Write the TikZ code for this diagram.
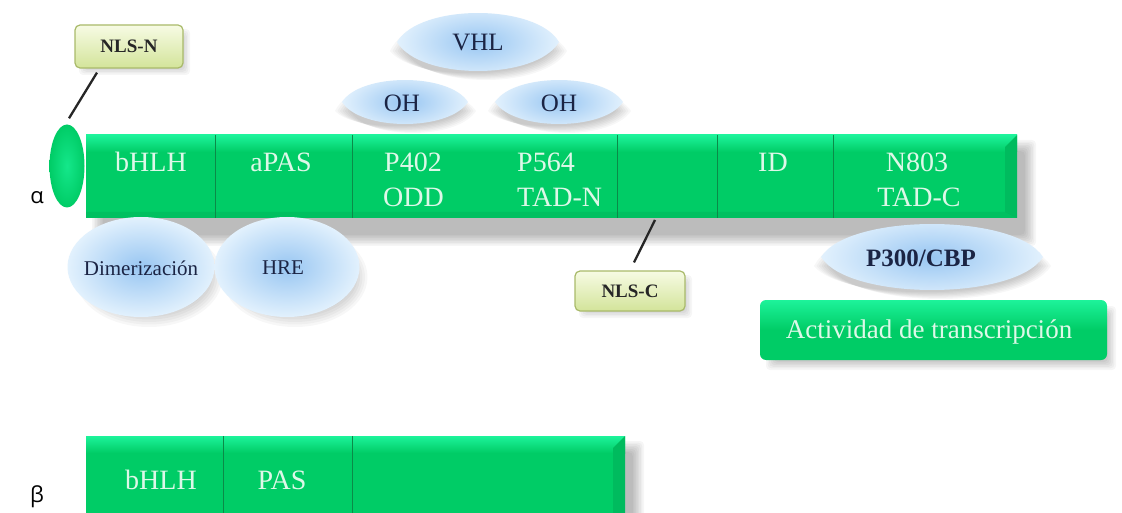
\documentclass[tikz,border=0pt]{standalone}
\usepackage{fontspec}
\setmainfont{Liberation Serif}
\newfontfamily\greekfont{Open Sans}
\usetikzlibrary{shapes.geometric}
\definecolor{barg}{HTML}{00CC66}
\definecolor{barhi}{HTML}{1DF39A}
\definecolor{bardk}{HTML}{00BB5E}
\definecolor{sepc}{HTML}{0B8A48}
\definecolor{mint}{HTML}{DDF8E8}
\definecolor{lensin}{HTML}{98C6F2}
\definecolor{lensout}{HTML}{E2F1FD}
\definecolor{navy}{HTML}{1B2444}
\definecolor{nlstop}{HTML}{F7FBE4}
\definecolor{nlsbot}{HTML}{D3E49A}
\definecolor{nlsdraw}{HTML}{A9BA6A}
\newcommand\softshadow[4]{%
  \foreach \k in {0,...,7}{%
    \fill[black,opacity=0.035,rounded corners=4pt] ({#1+\k*1.6},{#2+\k*1.6}) rectangle ({#3-\k*1.6},{#4-\k*1.6});}}
% lens: center x, center y, half width, half height, bulge factor
\newcommand\lenspath[5]{({#1-#3},{#2}) .. controls ({#1-#5*#3},{#2-1.333*#4}) and ({#1+#5*#3},{#2-1.333*#4}) .. ({#1+#3},{#2}) .. controls ({#1+#5*#3},{#2+1.333*#4}) and ({#1-#5*#3},{#2+1.333*#4}) .. cycle}
\newcommand\lensdraw[5]{%
  \foreach \k in {0,...,6}{%
    \fill[black,opacity=0.03] \lenspath{#1+8}{#2+9}{#3-\k*2.5}{#4-\k*1.5}{#5};}
  \shade[inner color=lensin, outer color=lensout] \lenspath{#1}{#2}{#3}{#4}{#5};}
\tikzset{
  bartext/.style={text=mint, font=\fontsize{28}{30}\selectfont, inner sep=0pt},
  darklabel/.style={text=navy, inner sep=0pt},
  nlsbox/.style={draw=nlsdraw, line width=1.2pt, rounded corners=5pt, top color=nlstop, bottom color=nlsbot, inner sep=0pt, font=\bfseries\fontsize{19}{20}\selectfont, text=black!85},
  sepline/.style={draw=sepc, line width=0.8pt},
  pointer/.style={draw=black!85, line width=2.3pt},
  blueoval/.style={ellipse, inner color=lensin, outer color=lensout, inner sep=0pt, text=navy, font=\fontsize{21}{22}\selectfont},
}
\begin{document}
\begin{tikzpicture}[x=1pt,y=-1pt]
\useasboundingbox (0,0) rectangle (1122,513);
\clip (0,0) rectangle (1122,513);
\fill[white] (0,0) rectangle (1122,513);

% Greek labels
\node[font=\greekfont\fontsize{22}{24}\selectfont, inner sep=0pt] (alpha) at (37,198) {α};
\node[font=\greekfont\fontsize{22}{24}\selectfont, inner sep=0pt] (beta) at (37,497) {β};

% VHL and OH lenses
\lensdraw{478}{42}{81}{29}{0.72}
\node[darklabel, font=\fontsize{25}{26}\selectfont] (vhl) at (478,43) {VHL};
\lensdraw{405}{102}{63}{22}{0.7}
\node[darklabel, font=\fontsize{25}{26}\selectfont] (oh1) at (402,103) {OH};
\lensdraw{559}{102}{64}{22}{0.7}
\node[darklabel, font=\fontsize{25}{26}\selectfont] (oh2) at (559,103) {OH};

% alpha bar shadow
\softshadow{92}{140}{1036}{246}
% alpha bar
\node[inner sep=0pt, minimum width=931pt, minimum height=83pt, fill=barg] (abar) at (551.5,176.5) {};
\shade[top color=barhi, bottom color=barg] (86,135) rectangle (1017,152);
\fill[bardk] (1005,147) -- (1017,135) -- (1017,218) -- (1005,212) -- cycle;
\fill[black, opacity=0.06] (86,218) -- (1017,218) -- (1005,212) -- (86,212) -- cycle;
\foreach \sx in {215,352,617,717,833}{\draw[sepline] (\sx,135) -- (\sx,218);}

% N-terminal dot
\node[ellipse, inner sep=0pt, minimum width=35pt, minimum height=83pt, inner color=barhi!70!barg, outer color=barg] (nlsdot) at (67,166) {};

\node[bartext] (bhlh) at (151,162) {bHLH};
\node[bartext] (apas) at (281,162) {aPAS};
\node[bartext, anchor=west] (p402) at (384,162) {P402};
\node[bartext, anchor=west] (odd) at (383,197) {ODD};
\node[bartext, anchor=west] (p564) at (517,162) {P564};
\node[bartext, anchor=west] (tadn) at (517,197) {TAD-N};
\node[bartext] (id) at (773,162) {ID};
\node[bartext] (n803) at (917,162) {N803};
\node[bartext] (tadc) at (919,197) {TAD-C};

% NLS-N
\softshadow{79}{29}{190}{75}
\node[nlsbox, minimum width=108pt, minimum height=43pt] (nlsn) at (129,46.5) {NLS-N};
\draw[pointer] ([xshift=-32pt,yshift=-4pt]nlsn.south) -- ([xshift=2pt,yshift=6pt]nlsdot.north);

% Dimerizacion / HRE
\foreach \k in {0,...,6}{%
  \fill[black,opacity=0.03] (149,277) ellipse ({73.5-\k*2.5} and {50-\k*2.5});
  \fill[black,opacity=0.03] (295,277) ellipse ({72.5-\k*2.5} and {50-\k*2.5});}
\node[blueoval, minimum width=147pt, minimum height=100pt] (dimer) at (141,267) {};
\node[darklabel, font=\fontsize{21}{22}\selectfont] (dimert) at (141,268) {Dimerización};
\node[blueoval, minimum width=145pt, minimum height=100pt] (hre) at (287,267) {};
\node[darklabel, font=\fontsize{21}{22}\selectfont] (hret) at (283,268) {HRE};

% NLS-C
\softshadow{579}{275}{692}{318}
\node[nlsbox, minimum width=110pt, minimum height=40pt] (nlsc) at (630,291) {NLS-C};
\coordinate (nlsctip) at (655,220);
\draw[pointer] ([xshift=4pt,yshift=8pt]nlsc.north) -- (nlsctip);

% P300/CBP
\lensdraw{932}{257}{111}{33}{0.75}
\node[darklabel, font=\bfseries\fontsize{25}{26}\selectfont] (p300) at (921,258) {P300/CBP};

% Actividad de transcripcion
\softshadow{766}{306}{1116}{370}
\node[inner sep=0pt, rounded corners=6pt, minimum width=347pt, minimum height=60pt, top color=barhi, bottom color=barg, middle color=barg] (act) at (933.5,330) {};
\node[bartext, font=\fontsize{27}{28}\selectfont] (actt) at (929,332) {Actividad de transcripción};

% beta bar
\softshadow{92}{441}{644}{530}
\node[inner sep=0pt, minimum width=539pt, minimum height=90pt, fill=barg] (bbar) at (355.5,481) {};
\shade[top color=barhi, bottom color=barg] (86,436) rectangle (625,453);
\fill[bardk] (613,448) -- (625,436) -- (625,526) -- (613,526) -- cycle;
\foreach \sx in {223,352}{\draw[sepline] (\sx,436) -- (\sx,526);}
\node[bartext] (bbhlh) at (161,480) {bHLH};
\node[bartext] (bpas) at (282,480) {PAS};
\end{tikzpicture}
\end{document}
